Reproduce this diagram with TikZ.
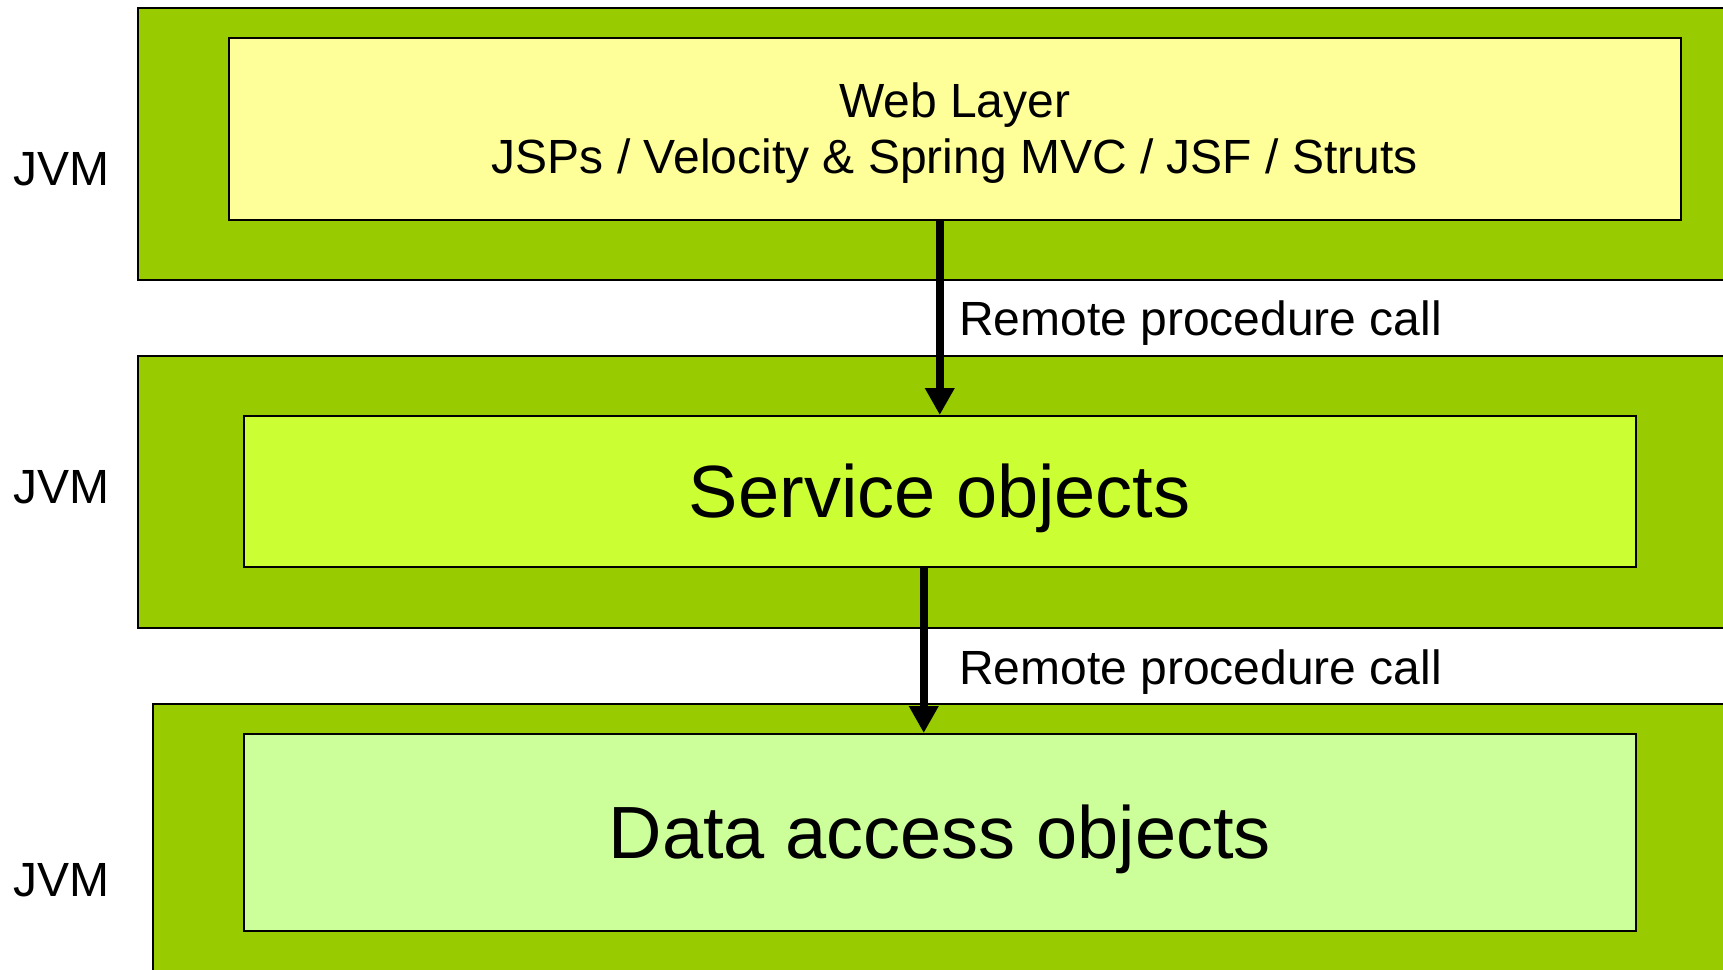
\documentclass[tikz,border=0pt]{standalone}
\usepackage{fontspec}
\setmainfont{Liberation Sans}
\usetikzlibrary{arrows.meta,positioning}
\definecolor{jvmgreen}{HTML}{99CC00}
\definecolor{webyellow}{HTML}{FFFF99}
\definecolor{servicelime}{HTML}{CCFF33}
\definecolor{daogreen}{HTML}{CCFF99}
\tikzstyle{jvm}=[
	rectangle,
	draw=black,
	line width=1.5pt,
	fill=jvmgreen,
	anchor=north west,
	inner sep=0pt
]
\tikzstyle{layer}=[
	rectangle,
	draw=black,
	line width=1.5pt,
	anchor=north west,
	inner sep=0pt,
	align=center
]
\tikzstyle{bigtext}=[
	font=\fontsize{74}{88}\selectfont,
	text height=53pt,
	text depth=0pt
]
\tikzstyle{caption}=[
	inner sep=0pt,
	font=\fontsize{48}{55}\selectfont,
	text height=34.4pt,
	text depth=0pt
]
\tikzstyle{call}=[
	-{Triangle[width=28pt,length=27pt]},
	line width=8pt
]

\begin{document}
\begin{tikzpicture}[x=1pt,y=-1pt]
\useasboundingbox (0,0) rectangle (1723,969);
\clip (0,0) rectangle (1723,969);
\fill[white] (0,0) rectangle (1723,969);
% the three JVMs
\node [jvm, minimum width=1700pt, minimum height=272pt] (jvmWeb) at (137,7) {};
\node [jvm, minimum width=1700pt, minimum height=272pt] (jvmService) at (137,355) {};
\node [jvm, minimum width=1700pt, minimum height=400pt] (jvmData) at (152,703) {};
\node [caption, anchor=west] (jvmWebLabel) at (13,168) {JVM};
\node [caption, anchor=west] (jvmServiceLabel) at (13,486) {JVM};
\node [caption, anchor=west] (jvmDataLabel) at (13,879) {JVM};
% layers
\node [layer, fill=webyellow, minimum width=1452pt, minimum height=182pt,
	font=\fontsize{48}{56}\selectfont, text height=90.4pt, text depth=0pt] (web) at (228,37)
	{Web Layer\\JSPs / Velocity \& Spring MVC / JSF / Struts};
\node [layer, bigtext, fill=servicelime, minimum width=1392pt, minimum height=151pt] (service) at (243,415) {Service objects};
\node [layer, bigtext, fill=daogreen, minimum width=1392pt, minimum height=197pt] (dao) at (243,733) {Data access objects};
% remote calls
\draw [call] (web.south -| service.north) -- (service.north);
\draw [call] ([xshift=-16pt]service.south) -- ([xshift=-16pt]dao.north);
\node [caption, anchor=west] (rpcWeb) at (959,318) {Remote procedure call};
\node [caption, anchor=west] (rpcService) at (959,667) {Remote procedure call};
\end{tikzpicture}
\end{document}
